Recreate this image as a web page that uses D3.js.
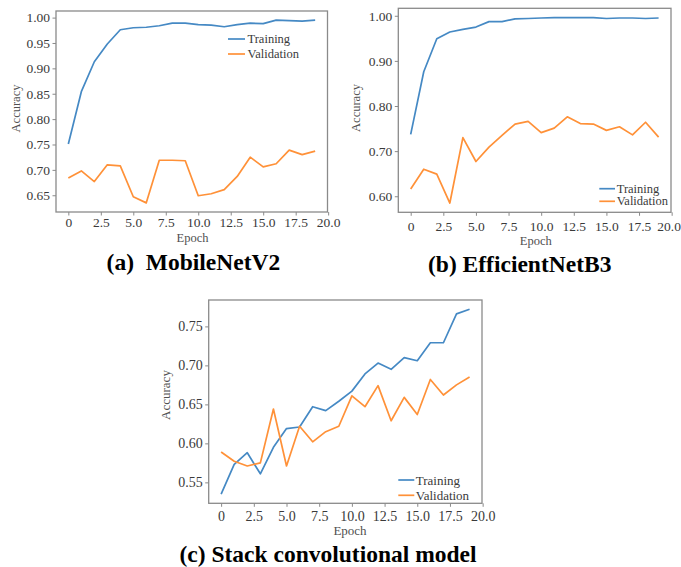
<!DOCTYPE html>
<html>
<head>
<meta charset="utf-8">
<script src="https://cdn.jsdelivr.net/npm/d3@7"></script>
<style>
  html, body { margin: 0; padding: 0; background: #fff; }
  svg { display: block; font-family: "Liberation Serif", "Times New Roman", serif; }
</style>
</head>
<body>
<svg id="chart" width="681" height="567"></svg>
<script>
// ---------- data ----------
const epochs = [0, 1, 2, 3, 4, 5, 6, 7, 8, 9, 10, 11, 12, 13, 14, 15, 16, 17, 18, 19];
const xTicks = [0, 2.5, 5, 7.5, 10, 12.5, 15, 17.5, 20];
const xTickLabels = ["0", "2.5", "5.0", "7.5", "10.0", "12.5", "15.0", "17.5", "20.0"];

// (a) MobileNetV2
const mobileTrain = [0.751, 0.854, 0.913, 0.948, 0.976, 0.980, 0.981, 0.984, 0.989, 0.989,
                     0.986, 0.985, 0.982, 0.986, 0.989, 0.988, 0.995, 0.994, 0.993, 0.995];
const mobileVal   = [0.684, 0.698, 0.677, 0.710, 0.708, 0.647, 0.635, 0.719, 0.719, 0.718,
                     0.649, 0.653, 0.661, 0.687, 0.725, 0.706, 0.712, 0.739, 0.730, 0.737];
const mobileYTicks = [0.65, 0.70, 0.75, 0.80, 0.85, 0.90, 0.95, 1.00];
const mobileYLabels = ["0.65", "0.70", "0.75", "0.80", "0.85", "0.90", "0.95", "1.00"];

// (b) EfficientNetB3
const effTrain = [0.737, 0.876, 0.949, 0.964, 0.970, 0.975, 0.987, 0.987, 0.993, 0.994,
                  0.995, 0.996, 0.996, 0.996, 0.996, 0.994, 0.995, 0.995, 0.994, 0.995];
const effVal   = [0.616, 0.660, 0.649, 0.585, 0.730, 0.677, 0.709, 0.735, 0.760, 0.766,
                  0.741, 0.751, 0.776, 0.761, 0.760, 0.746, 0.754, 0.736, 0.764, 0.731];
const effYTicks = [0.60, 0.70, 0.80, 0.90, 1.00];
const effYLabels = ["0.60", "0.70", "0.80", "0.90", "1.00"];

// (c) Stack convolutional model
const stackTrain = [0.535, 0.573, 0.588, 0.561, 0.595, 0.619, 0.621, 0.647, 0.642, 0.654,
                    0.667, 0.689, 0.703, 0.695, 0.710, 0.706, 0.729, 0.729, 0.766, 0.772];
const stackVal   = [0.589, 0.577, 0.571, 0.575, 0.644, 0.571, 0.622, 0.602, 0.615, 0.622,
                    0.661, 0.647, 0.674, 0.629, 0.659, 0.637, 0.682, 0.662, 0.675, 0.685];
const stackYTicks = [0.55, 0.60, 0.65, 0.70, 0.75];
const stackYLabels = ["0.55", "0.60", "0.65", "0.70", "0.75"];

const seriesNames = ["Training", "Validation"];
const titles = ["(a)\u00a0\u00a0MobileNetV2", "(b) EfficientNetB3", "(c) Stack convolutional model"];

// ---------- drawing ----------
const COLORS = ["#4589c4", "#ff9138"];
const FRAME = "#8a8a8a";
const TXT = "#3a3a3a";
const svg = d3.select("#chart");
svg.append("rect").attr("width", 681).attr("height", 567).attr("fill", "#fff");

function extentPad(arrs) {
  const all = [].concat(...arrs);
  const lo = d3.min(all), hi = d3.max(all), m = (hi - lo) * 0.05;
  return [lo - m, hi + m];
}

function panel(cfg) {
  const g = svg.append("g");
  const x = d3.scaleLinear().domain([-0.95, 19.95]).range([cfg.left, cfg.right]);
  const y = d3.scaleLinear().domain(extentPad([cfg.train, cfg.val])).range([cfg.bottom, cfg.top]);

  // y axis
  const yAxis = d3.axisLeft(y).tickValues(cfg.yTicks)
    .tickFormat((d, i) => cfg.yLabels[i]).tickSize(3.5).tickPadding(2.5);
  const ya = g.append("g").attr("transform", `translate(${cfg.left},0)`).call(yAxis)
    .attr("font-family", "Liberation Serif");
  ya.select(".domain").remove();
  ya.selectAll("line").attr("stroke", FRAME);
  ya.selectAll("text").attr("font-size", cfg.tickFs).attr("fill", TXT);

  // x axis
  const xAxis = d3.axisBottom(x).tickValues(xTicks)
    .tickFormat((d, i) => xTickLabels[i]).tickSize(3.5).tickPadding(cfg.xPad);
  const xa = g.append("g").attr("transform", `translate(0,${cfg.bottom})`).call(xAxis)
    .attr("font-family", "Liberation Serif");
  xa.select(".domain").remove();
  xa.selectAll("line").attr("stroke", FRAME);
  xa.selectAll("text").attr("font-size", cfg.tickFs).attr("fill", TXT);
  if (cfg.lastShift) {
    xa.selectAll("text").filter((d, i) => i === xTicks.length - 1).attr("dx", cfg.lastShift);
  }

  // frame
  g.append("rect").attr("x", cfg.left).attr("y", cfg.top)
    .attr("width", cfg.right - cfg.left).attr("height", cfg.bottom - cfg.top)
    .attr("fill", "none").attr("stroke", FRAME).attr("stroke-width", 1.3);

  // lines
  const line = d3.line().x((d, i) => x(epochs[i])).y(d => y(d));
  [cfg.train, cfg.val].forEach((s, k) => {
    g.append("path").datum(s).attr("d", line).attr("fill", "none")
      .attr("stroke", COLORS[k]).attr("stroke-width", 1.7).attr("stroke-linejoin", "round");
  });

  // axis titles
  g.append("text").attr("x", cfg.epochX).attr("y", cfg.epochY).attr("text-anchor", "middle")
    .attr("font-size", cfg.labFs).attr("fill", "#505050").text("Epoch");
  g.append("text").attr("transform", `translate(${cfg.accX},${cfg.accY}) rotate(-90)`)
    .attr("text-anchor", "middle").attr("dominant-baseline", "central")
    .attr("font-size", cfg.labFs).attr("fill", "#505050").text("Accuracy");

  // legend
  seriesNames.forEach((nm, k) => {
    const ly = cfg.legY[k];
    g.append("line").attr("x1", cfg.legX1).attr("x2", cfg.legX2).attr("y1", ly).attr("y2", ly)
      .attr("stroke", COLORS[k]).attr("stroke-width", 1.7);
    g.append("text").attr("x", cfg.legTx).attr("y", ly).attr("dominant-baseline", "central")
      .attr("font-size", cfg.legFs).attr("fill", TXT).text(nm);
  });

  // title
  g.append("text").attr("x", cfg.titleX).attr("y", cfg.titleY).attr("text-anchor", "middle")
    .attr("font-size", 23.5).attr("font-weight", "bold").attr("fill", "#000").text(cfg.title);
}

panel({
  left: 56, right: 327.5, top: 11, bottom: 212,
  train: mobileTrain, val: mobileVal, yTicks: mobileYTicks, yLabels: mobileYLabels,
  tickFs: 13.5, labFs: 12.5, legFs: 12.5, xPad: 1.5,
  epochX: 192.5, epochY: 242, accX: 16, accY: 108.5,
  legX1: 228, legX2: 245, legTx: 247.5, legY: [39, 54],
  title: titles[0], titleX: 193.4, titleY: 270
});

panel({
  left: 398.3, right: 671, top: 8.3, bottom: 212.3,
  train: effTrain, val: effVal, yTicks: effYTicks, yLabels: effYLabels,
  tickFs: 13.5, labFs: 12.5, legFs: 12.5, xPad: 5.5, lastShift: -3,
  epochX: 535.8, epochY: 245, accX: 356, accY: 108,
  legX1: 599.3, legX2: 615, legTx: 616.7, legY: [188.7, 201.3],
  title: titles[1], titleX: 519.7, titleY: 272
});

panel({
  left: 208.7, right: 482, top: 300, bottom: 503.3,
  train: stackTrain, val: stackVal, yTicks: stackYTicks, yLabels: stackYLabels,
  tickFs: 14, labFs: 13, legFs: 13, xPad: 4,
  epochX: 350, epochY: 535, accX: 165.7, accY: 395,
  legX1: 398.3, legX2: 414.3, legTx: 415.7, legY: [480, 495.3],
  title: titles[2], titleX: 328, titleY: 561.5
});
</script>
</body>
</html>
